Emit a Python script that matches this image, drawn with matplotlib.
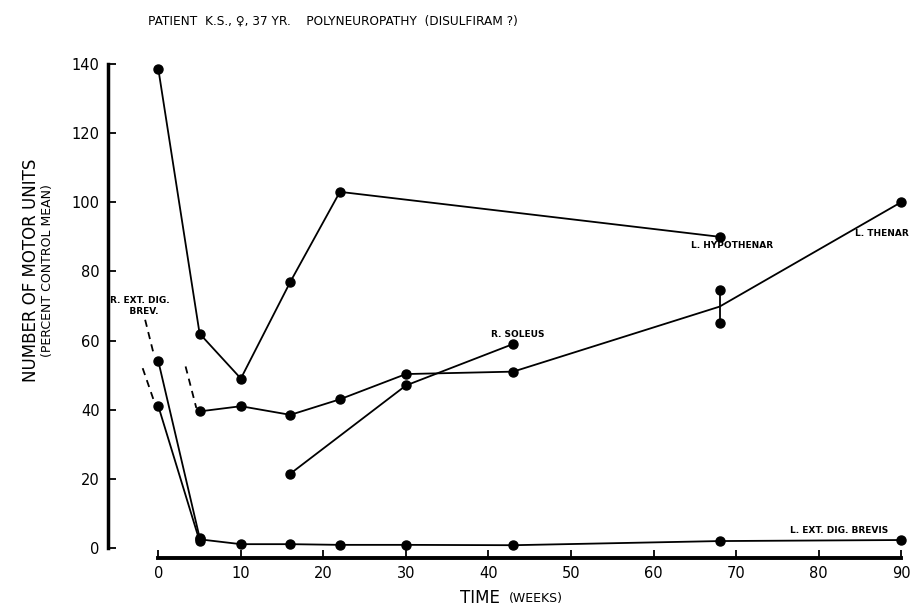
import numpy as np
import matplotlib
matplotlib.use("Agg")
import matplotlib.pyplot as plt

# --- data (weeks, percent of control mean) ---
hypo_weeks = [0, 5, 10, 16, 22, 68]
hypo_vals = [138.5, 62, 49, 77, 103, 90]

thenar_weeks = [5, 10, 16, 22, 30, 43, 68, 90]
thenar_vals = [39.5, 41, 38.5, 43, 50.3, 51, 69.8, 100]
thenar_range_week = 68
thenar_range = [74.5, 65]

soleus_weeks = [16, 30, 43]
soleus_vals = [21.5, 47, 59]

r_edb1_weeks = [0, 5]
r_edb1_vals = [54, 3]
r_edb2_weeks = [0, 5]
r_edb2_vals = [41, 2]

l_edb_weeks = [5, 10, 16, 22, 30, 43, 68, 90]
l_edb_vals = [2.5, 1.1, 1.1, 0.9, 0.9, 0.8, 2.0, 2.3]

# dashed lead-in lines (start week, start val, end week, end val)
dash_segments = [
    (-1.6, 66, -0.5, 55.5),
    (-1.9, 52, -0.6, 43),
    (3.3, 52.5, 4.6, 40.5),
]

yticks = [0, 20, 40, 60, 80, 100, 120, 140]
xticks = [0, 10, 20, 30, 40, 50, 60, 70, 80, 90]

plt.rcParams['font.family'] = ['DejaVu Sans']

fig = plt.figure(figsize=(9.2, 6.08), dpi=100)
ax = fig.add_axes([108 / 920, 1 - 558 / 608, (917.6 - 108) / 920, (558 - 57) / 608])
ax.set_xlim(-6.1, 92)
ax.set_ylim(-2.9, 142)

style = dict(color='black', lw=1.3, marker='o', ms=6.5, mfc='black', mec='black')

ax.plot(hypo_weeks, hypo_vals, **style)
ax.plot(thenar_weeks, thenar_vals, color='black', lw=1.3)
tw = np.array(thenar_weeks)
tv = np.array(thenar_vals)
mask = tw != thenar_range_week
ax.plot(tw[mask], tv[mask], 'o', color='black', ms=6.5)
ax.plot([thenar_range_week] * 2, thenar_range, **style)
ax.plot(soleus_weeks, soleus_vals, **style)
ax.plot(r_edb1_weeks, r_edb1_vals, **style)
ax.plot(r_edb2_weeks, r_edb2_vals, **style)
ax.plot(l_edb_weeks, l_edb_vals, **style)

for x0, y0, x1, y1 in dash_segments:
    ax.plot([x0, x1], [y0, y1], color='black', lw=1.3, ls=(0, (4, 3)))

# muscle labels
lab = dict(fontsize=6.5, fontweight='bold', ha='center', va='center')
ax.text(-2.3, 70, "R. EXT. DIG.\n   BREV.", linespacing=1.2, **lab)
ax.text(43.5, 61.8, "R. SOLEUS", **lab)
ax.text(69.5, 87.5, "L. HYPOTHENAR", **lab)
ax.text(87.7, 91, "L. THENAR", **lab)
ax.text(82.5, 5, "L. EXT. DIG. BREVIS", **lab)

# axes styling
for s in ['top', 'right']:
    ax.spines[s].set_visible(False)
ax.spines['left'].set_bounds(0, 140)
ax.spines['bottom'].set_bounds(0, 90)
ax.spines['left'].set_linewidth(2.5)
ax.spines['bottom'].set_linewidth(2.8)
ax.set_yticks(yticks)
ax.set_xticks(xticks)
ax.tick_params(axis='both', direction='in', length=6, width=1.3, labelsize=10.5, pad=6)

fig.text(148 / 920, 0.965, "PATIENT  K.S., \u2640, 37 YR.    POLYNEUROPATHY  (DISULFIRAM ?)",
         fontsize=8.7, ha='left', va='center')

fig.text(31 / 920, 0.555, "NUMBER OF MOTOR UNITS", rotation=90, fontsize=12,
         ha='center', va='center')
fig.text(48 / 920, 0.555, "(PERCENT CONTROL MEAN)", rotation=90, fontsize=9,
         ha='center', va='center')

fig.text(0.543, 0.016, "TIME", fontsize=12, ha='right', va='center')
fig.text(0.553, 0.016, "(WEEKS)", fontsize=9, ha='left', va='center')

fig.savefig("out.png", dpi=100)
